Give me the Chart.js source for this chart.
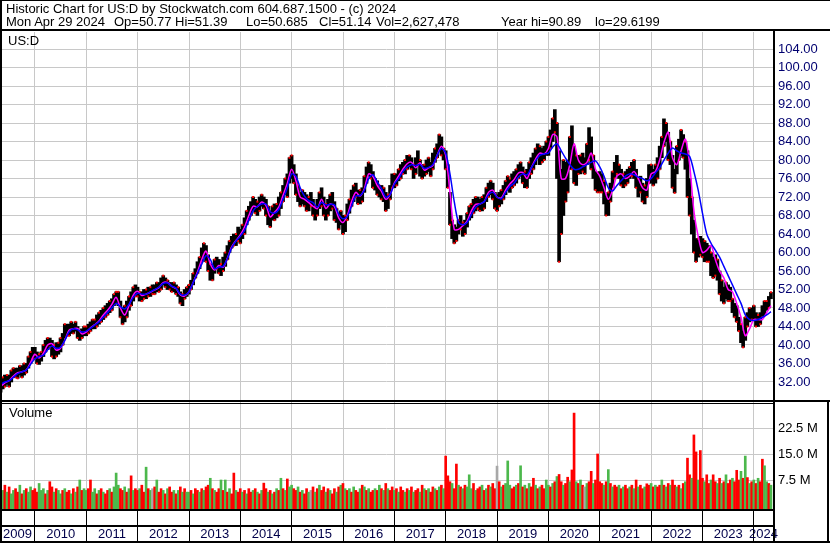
<!DOCTYPE html>
<html>
<head>
<meta charset="utf-8">
<script src="https://cdn.jsdelivr.net/npm/chart.js@4.4.1/dist/chart.umd.min.js"></script>
<style>
  body { margin: 0; background: #fff; }
  #wrap { position: relative; width: 830px; height: 543px; background: #fff;
          font-family: "Liberation Sans", Arial, sans-serif; font-size: 13px; color: #000; }
  #wrap canvas { position: absolute; left: 0; top: 0; }
  .txt { position: absolute; line-height: 13px; white-space: pre; }
</style>
</head>
<body>
<div id="wrap">
  <canvas id="chart" width="830" height="543"></canvas>
  <div class="txt" style="left:6px;top:2px">Historic Chart for US:D by Stockwatch.com 604.687.1500 - (c) 2024</div>
  <div class="txt" style="left:6px;top:15px">Mon Apr 29 2024</div>
  <div class="txt" style="left:114px;top:15px">Op=50.77</div>
  <div class="txt" style="left:175px;top:15px">Hi=51.39</div>
  <div class="txt" style="left:246px;top:15px">Lo=50.685</div>
  <div class="txt" style="left:319px;top:15px">Cl=51.14</div>
  <div class="txt" style="left:376px;top:15px">Vol=2,627,478</div>
  <div class="txt" style="left:501px;top:15px">Year hi=90.89</div>
  <div class="txt" style="left:595px;top:15px">lo=29.6199</div>
  <div class="txt" style="left:8px;top:34px">US:D</div>
  <div class="txt" style="left:9px;top:406px">Volume</div>
</div>
<script>
// time axis: first bar May 2009, two bars per month, moving averages monthly
const startYear = 2009.33;
const xMin = 2009.3185;
const xMax = 2024.37;
const yearLabels = ['2009','2010','2011','2012','2013','2014','2015','2016','2017','2018','2019','2020','2021','2022','2023','2024'];
const gridYears = [2010,2011,2012,2013,2014,2015,2016,2017,2018,2019,2020,2021,2022,2023,2024];

const priceTicks = [32,36,40,44,48,52,56,60,64,68,72,76,80,84,88,92,96,100,104];
const volTicks = [7.5, 15, 22.5];
const volTickLabels = ['7.5 M', '15.0 M', '22.5 M'];

// half-month price range (low / high)
const priceLow = [
  29.8,30.5,31,31.5,31,32,33,33,32.8,33.5,33,33.5,34,35,36,37,
  37,36,35.8,36.5,37.5,38.5,39,39.5,37.5,37,37.5,38,38.5,40,41.5,42,42,42.5,42.5,43,41.5,41,41.5,42,
  42,42.5,43,43.5,43.5,44,44.5,45,45.5,46,46.5,47,47.5,48.5,49,48.5,46,44.5,45,46,47.5,48.5,49.5,50.5,
  50.5,49.5,49.5,50,50,50.5,50.5,51,51,51.5,51.5,52,53,52.5,52,52,51.5,51.5,51,50.5,49,48.5,50,50.5,
  51,52,53,54.5,55.5,56.5,58,59,58,56,54,54,55.5,56.5,55.5,55,56,57,58.5,60,61,61.5,61.5,62.5,
  62,63,64,66,67,68,69,68.5,68,69,70,69.5,68,66,65.5,67,67,67.5,68,69.5,71,72.5,72,75,
  76,75,72.5,71,70,70.5,70,69,69,70,68,67,68,69.5,70,68,67,68,69,69.5,67,66.5,65,66,
  64,64.5,67,68.5,70,71,72,70.5,70.5,71,73,75,76.5,76,74,73.5,72.5,72,71.5,71,69,69.5,71.5,74,
  74,74.5,75.5,76,77,77,78,78.5,78,76,77,79,76.5,76,76.5,77,77.5,76.5,78,79.5,80.5,82,81,80,
  78,74,66,63,62,62.5,64,65,63.5,64,65.5,67,67.5,68.5,69,69.5,69,69,69.5,71,72,72.5,71.5,69.5,
  69,70,70.5,71.5,72.5,73.5,73,74,74.5,75,76,76.5,75,74,74,76,77,78,79,80.5,79,79.5,80,81,
  81,82.5,84,86,76,58,64,68,71,73,78,78,75,74.5,77,77,77.5,77,79,80,78,76,73.5,73,
  73,73,70.5,68,68,71,74,76,77,76,74.5,74,74.5,75,76,76.5,76,74,72,73,71,70.5,72,75,
  75,74.5,75,76,78,80.5,83,84,80,79,74,72.9,77,80,81,80.5,78,72,68,64,60,58,59,59.5,
  59,58,58,58,55,54.5,55,54,51,49.5,49,50,49.5,49.5,47,46,45,43,40.5,39.5,41,44,45,45.5,
  45.5,44,44,44.5,46,46.5,47.5,48,50
];
const priceHigh = [
  32.5,33,33.5,33.5,33.5,34.5,35,35,35,35.5,35.5,36,36,37.5,38.5,39.5,
  39.5,38.5,38,38.5,40,41,41.5,41.5,41,40,40.5,40.5,41.5,42.5,44.5,44.5,44.5,45,44.5,45,44,43,43.5,44,
  44,44.5,45,45.5,45.5,46.5,47,47.5,48,48.5,49,49.5,50,51,51.5,51.5,49.5,48,48.5,49.5,50.5,51.5,52.5,53,
  52.5,51.5,51.5,52,52,52.5,52.5,53,53,53.5,53.5,54.5,55,54.5,54,53.5,53.5,53.5,53,52.5,51.5,51,52,52.5,
  53,54,55.5,56.5,58,59,61,62,61.5,59.5,57.5,57,58.5,59,58.5,57.5,59,60,61.5,62.5,63.5,64,64,65.5,
  65,66,67.5,69,70,71,72,71.5,71,72,72.5,72,71.5,70,69,70,70.5,70.5,72,73,74.5,76,77,80.5,
  81,79,77,74.5,73,73.5,73,72.5,72,73,71.5,70,71.5,73,74,72,70.5,71.5,72.5,73,71,69.5,68.5,69,
  68,68,70.5,71.5,73.5,74.5,75,73.5,73.5,74,76.5,78.5,79.5,79,77.5,76,75.5,74.5,74.5,74,73,72.5,74.5,77,
  77,77,78,79,79.5,80,81,81,80.5,79,80.5,82,80,79,79,80,80.5,79.5,81.5,82.5,83.5,85.5,85,82.5,
  82,79,73,67,66,65.5,67,68,66.5,67,68.5,70,70.5,71.5,72,72,71.5,72,72.5,74,75,75.5,75,73,
  72.5,73,73.5,74.5,75.5,76.5,76,77,77.5,78,79,79.5,78.5,77.5,78,79.5,80.5,81.5,82.5,83.5,83,82.5,83,84,
  85,86.5,89,90.9,88,82,78,80,79.5,80,85,87.4,83,81,81,81,81.5,80.5,83.5,87,85,81,77.5,77,
  77.5,77,75.5,72.5,73,75,77.5,79.5,81,79,78,77,77.5,78,78.5,79.5,80,78,76,76.5,75,74.5,76,79,
  79,78,79,80.5,83,85,88.9,88,86,84,81,78,83,84.5,86.5,85.5,84,82,76,72,67,63,63,63.5,
  63,62.5,62,61.5,60,59,59.5,58.5,56,54,52.5,53.5,53,52.5,50,49,48.5,46,44.5,43,46,47,48,48,
  48.5,47,46.5,47,48.5,49.5,49.5,50.5,51.4
];

// monthly moving averages (magenta = short, blue = long)
const maShort = [
  31,31.8,32.3,33.3,34,34.2,34.6,36.2,
  38,37.2,38.2,40,40.3,38.9,39.3,41,43.2,43.5,43.6,42.4,
  42.8,43.7,44.4,45.2,46.5,47.5,48.8,50.3,48,46.5,48.5,50.8,
  51.6,50.7,51,51.4,51.9,52.4,53.5,53.5,52.7,52.2,50.8,50.6,
  51.5,53.5,55.8,58.5,60.3,57.5,56.2,57.2,56.8,58.8,61.2,62.6,
  63.8,65.5,68,70,69.9,70.9,70.2,67.7,68.7,69.8,72.4,75,
  78,75.5,72,71.5,70.8,70,69.5,71.5,69.5,70.5,70,67.5,
  66.5,68,71,73,72.2,73.8,77,76.5,74.5,73.2,71.5,72.5,
  75,76.5,78,79.2,79.5,78.3,79.4,77.8,78.3,78.8,81,83,
  81,73,65,65,65.8,66.8,69,70.4,70.5,71,73,73.5,
  72,71.8,73.5,74.8,75.8,77.2,77.3,76,78.3,80.2,81.5,81.3,
  82.5,85.5,85,76,76,79,83.5,80,79,79.5,81.5,78,
  76.5,74,71.5,73.5,76.5,77,76,76.5,77.5,76,74,73.5,
  77,77.5,80,83.8,86,80.5,79,82,84.5,79,69,63.5,
  60,60.5,61.5,58.5,56,54.5,52,51.5,49,46,42,43.5,
  45.5,45.5,45.5,47,48.5
];
const maLong = [
  31.5,32,32.3,33,33.8,34.2,34.6,35.8,
  37,37.5,37.8,39,39.8,39.3,39.5,41,42.8,43.5,43.3,42.8,
  43,43.6,44.3,45,46,47,48,49,48.3,47.8,48.8,50.3,
  51.2,51,51,51.5,52,52.5,53.3,53.4,52.7,52.3,51,50.8,
  51.5,53.5,55.5,57.5,59.3,58.5,56.5,56.8,57,58.7,61,62.5,
  63.5,64.8,67,69,70,70.5,70.5,68.8,68.5,69.3,71.5,74,
  77,76.5,74,72.2,71.2,70.8,69.8,70.8,70.3,70.4,70.3,68.3,
  67.3,67.8,70,72.2,72.3,73.5,76,76.8,75.3,73.8,72,72.5,
  74.8,76,77.5,78.5,79,78.8,79,78.2,78.4,79,81,82.5,
  81.5,77,71,66.5,66,66.5,68.2,69.8,70.5,71,72.5,73,
  72,71.6,73,74.3,75,76.3,77,76.8,78.3,79.8,81,81.3,
  81.5,82.8,83.5,82,80.4,79,78,78,78.5,79,79.5,79.8,
  78.5,76.5,74,73.3,74.5,75.5,76.5,77,76.8,76.3,76,75.5,
  76,77.2,78.3,80,81.5,82.6,82,81.5,81.3,80.8,77.5,73.5,
  68.5,64,62,60.5,59,57,55,53,51,49,46.5,45.5,
  45.3,45.5,46,46.5,47.2
];

// half-month volume, millions
const volume = [
  5,4.5,6,4,5.5,3.5,4.5,5,4,6,3.5,4.5,5,4,5.5,4.5,
  5,4,6.5,4.5,5,3.5,4.5,7,5.5,4,5,4.5,3.5,4.5,5,4,4.5,3.5,5,4,5.5,7.5,4.5,5,
  4.5,5,7.5,4,5,3.5,4.5,5,4,3.5,4.5,5,4,5.5,9.5,6,5,4.5,5.5,4,5,8.7,4.5,5,
  4.5,5,6,4,11.2,5,4.5,5,5.5,7.5,4,5,4.5,3.5,5,5.5,4,4.5,3.5,4.5,5.5,4,5,4,
  4,4.5,3.5,5,4.5,4,5,4.5,5.5,6,8,5,4.5,4,5,7.5,4.5,7.5,4,5,3.5,9.5,4.5,4,
  5,4,4.5,3.5,5,4,4.5,5,4,3.5,4.5,6.6,5,4,4.5,3.5,4,5,4.5,8,5,4.5,7.8,5.5,
  6,5,4.5,5.5,4,4.5,3.5,5,4,4.5,5.5,4,5,6,4.5,5.5,4,5,4.5,3.5,5,4,5.5,6,
  6.5,5,4.5,5,4,5.5,4.5,4,5,6,5.5,4.5,5,4,4.5,5,4.5,6,5,4.5,6.5,5,4.5,5.5,
  4.5,5,4,5.5,4.5,4,5,4.5,5.5,4,4.5,5,4,6,5,4.5,5,4,5.5,5,4.5,5.5,6,5,
  14.4,8.7,7,6.5,5,12.1,6,5.5,5,6,5.5,9,5,6.5,4.5,5,5.5,6,4.5,5,6,5.5,6.5,5,
  11.5,7,5.5,6,6.5,13,6,5,5.5,6,6.5,11.6,5.5,6,5,6.5,5.5,8,6,5,5.5,6,5,7.5,
  6,5.5,6.5,7,8.5,9.1,7,6,6.5,8.3,7,10.4,26.8,7,6.5,7.5,6,5.5,6.5,7,10,6.5,7.5,15,
  7,6.5,6,7,10.5,6.5,5.5,6,5.5,6,5,5.5,6,5,5.5,6,5,7.5,5.5,6,5,5.5,6.4,6,
  6.5,5.5,6,5.5,6,7.5,6,5.5,6.5,6,7.5,6,5.5,6,5,6.5,7,13.8,9,8,20.5,15.6,7.5,16,
  8,7,9,6.5,7.5,9,7,6.5,8,6.5,7,9,6.5,7.5,8,7,10.3,7.5,10,8,14.4,8.2,6.5,7,
  7.5,6.5,8,7,13.5,11.6,7,6.5,6
];
// bar direction per half month: g = up, r = down, x = unchanged
const volumeDir = [
  'xgrgrggrrgrgrggr',
  'rrgggrgrrgrggrgrrgrgrgrg',
  'grrggrgrgrrgrgggrrgrgrgr',
  'rgrrgrgxrgrrgrgrrgrgrgrg',
  'grgrrgrgrrgrgrrgrgrgrrgr',
  'rgrgrrgrgrgrrgrgrgrgrgrg',
  'grrgrgrrgxrgrgrrgrgrrgrg',
  'rgrgrgrrgrgrgrrgrgrgrgrr',
  'grgrrgrgrgrrgrgrgrrgrgrg',
  'rrrgrrgrgrgggrgrrgrgrgrr',
  'xrgrgggrrgrgrgrgrrgrgrrg',
  'grgrgrrgrrgrrgrgrxgrrgrr',
  'rrgrgrgrrgrgrrgrgrgrrgrr',
  'grgrrgrgrgrrgrgrgrrgrrgr',
  'rgrrgrrgrgrgrrgrrrgrgrgr',
  'grgrrggrg'
].join('');

const volColors = { g: '#4cb84c', r: '#ff0000', x: '#a8a8a8' };

const priceData = priceLow.map((lo, i) => ({ x: startYear + i / 24, y: [lo, priceHigh[i]] }));
// red close ticks: near the high on up bars, near the low on down bars
const closeData = priceLow.map((lo, i) => ({
  x: startYear + i / 24,
  y: volumeDir[i] === 'g' ? priceHigh[i] : lo
}));
const volData = volume.map((v, i) => ({ x: startYear + i / 24, y: v }));
const shortData = maShort.map((v, i) => ({ x: startYear + i / 12, y: v }));
const longData = maLong.map((v, i) => ({ x: startYear + i / 12, y: v }));

const labelPos = [(xMin + 2010) / 2];
for (let y = 2010; y < 2024; y++) labelPos.push(y + 0.5);
labelPos.push((2024 + xMax) / 2);

const volMin = -0.865;
const axisFont = { family: '"Liberation Sans", Arial, sans-serif', size: 13 };

function noPad(scale) {
  scale.paddingLeft = 0; scale.paddingRight = 0;
  scale.paddingTop = 0; scale.paddingBottom = 0;
}

const frame = {
  id: 'frame',
  afterDraw(chart) {
    const { ctx, chartArea: a } = chart;
    const W = chart.width, H = chart.height;
    const vTop = chart.scales.yv.top;
    ctx.save();
    ctx.fillStyle = '#000';
    ctx.fillRect(0, 0, W, 1);
    ctx.fillRect(0, 0, 2, H);
    ctx.fillRect(0, 29, W, 2);
    ctx.fillRect(0, H - 2, W, 2);
    ctx.fillRect(a.right, 31, 2, H - 31);
    ctx.fillRect(0, vTop - 1, W, 2);
    ctx.fillRect(0, vTop + 2, a.right, 1);
    ctx.fillRect(0, a.bottom, a.right, 2);
    ctx.fillRect(0, chart.scales.xl.top, a.right, 2);
    ctx.fillRect(W - 3, vTop - 1, 2, H - vTop + 1);
    ctx.restore();
  }
};

new Chart(document.getElementById('chart').getContext('2d'), {
  type: 'bar',
  data: {
    datasets: [
      {
        type: 'line', data: longData, yAxisID: 'y', xAxisID: 'x',
        borderColor: '#0000ff', borderWidth: 1.5, pointRadius: 0, tension: 0.3, order: 0
      },
      {
        type: 'line', data: shortData, yAxisID: 'y', xAxisID: 'x',
        borderColor: '#ff00ff', borderWidth: 1.5, pointRadius: 0, tension: 0.3, order: 1
      },
      {
        type: 'scatter', data: closeData, yAxisID: 'y', xAxisID: 'x',
        pointStyle: 'rect', pointRadius: 1.4, borderWidth: 0,
        backgroundColor: '#ff0000', order: 2
      },
      {
        data: priceData, yAxisID: 'y', xAxisID: 'x',
        backgroundColor: '#000', barThickness: 3, grouped: false, order: 3
      },
      {
        data: volData, yAxisID: 'yv', xAxisID: 'x',
        backgroundColor: volumeDir.split('').map(c => volColors[c]),
        barThickness: 2, grouped: false, base: volMin, order: 4
      }
    ]
  },
  options: {
    responsive: false,
    animation: false,
    events: [],
    layout: { autoPadding: false, padding: { top: 32, left: 0, right: 0, bottom: 0 } },
    plugins: { legend: { display: false }, tooltip: { enabled: false } },
    scales: {
      x: {
        type: 'linear', position: 'bottom', min: xMin, max: xMax, offset: false, weight: 0,
        grid: { color: '#c8c8c8', tickColor: '#000', tickLength: 16, offset: false },
        border: { display: false },
        ticks: { display: false },
        afterBuildTicks: s => { s.ticks = gridYears.map(v => ({ value: v })); },
        afterFit: s => { s.height = 16; noPad(s); }
      },
      xl: {
        type: 'linear', position: 'bottom', min: xMin, max: xMax, offset: false, weight: 1,
        grid: {
          drawOnChartArea: false, tickLength: 16, offset: false,
          tickColor: c => Number.isInteger(c.tick.value) ? '#000' : 'rgba(0,0,0,0)'
        },
        border: { display: false },
        ticks: {
          autoSkip: false, maxRotation: 0, minRotation: 0, padding: -14,
          color: '#00004a', font: axisFont,
          callback: v => {
            const k = labelPos.findIndex(p => Math.abs(p - v) < 1e-6);
            return k < 0 ? '' : yearLabels[k];
          }
        },
        afterBuildTicks: s => {
          s.ticks = gridYears.concat(labelPos).sort((a, b) => a - b).map(v => ({ value: v }));
        },
        afterFit: s => { s.height = 18; noPad(s); }
      },
      y: {
        type: 'linear', position: 'right', stack: 'p', stackWeight: 369, weight: 0,
        min: 27.89, max: 107.68,
        grid: { color: '#c8c8c8', drawTicks: false },
        border: { display: false },
        ticks: {
          autoSkip: false, padding: 5, color: '#000070', font: axisFont,
          callback: v => v.toFixed(2)
        },
        afterBuildTicks: s => { s.ticks = priceTicks.map(v => ({ value: v })); },
        afterFit: s => { s.width = 57; noPad(s); }
      },
      yv: {
        type: 'linear', position: 'right', stack: 'p', stackWeight: 108, weight: 1,
        min: volMin, max: 30.29,
        grid: { color: '#c8c8c8', drawTicks: false },
        border: { display: false },
        ticks: {
          autoSkip: false, padding: 5, color: '#000', font: axisFont,
          callback: v => {
            const k = volTicks.indexOf(v);
            return k < 0 ? '' : volTickLabels[k];
          }
        },
        afterBuildTicks: s => { s.ticks = volTicks.map(v => ({ value: v })); },
        afterFit: s => { s.width = 57; noPad(s); }
      }
    }
  },
  plugins: [frame]
});
</script>
</body>
</html>
